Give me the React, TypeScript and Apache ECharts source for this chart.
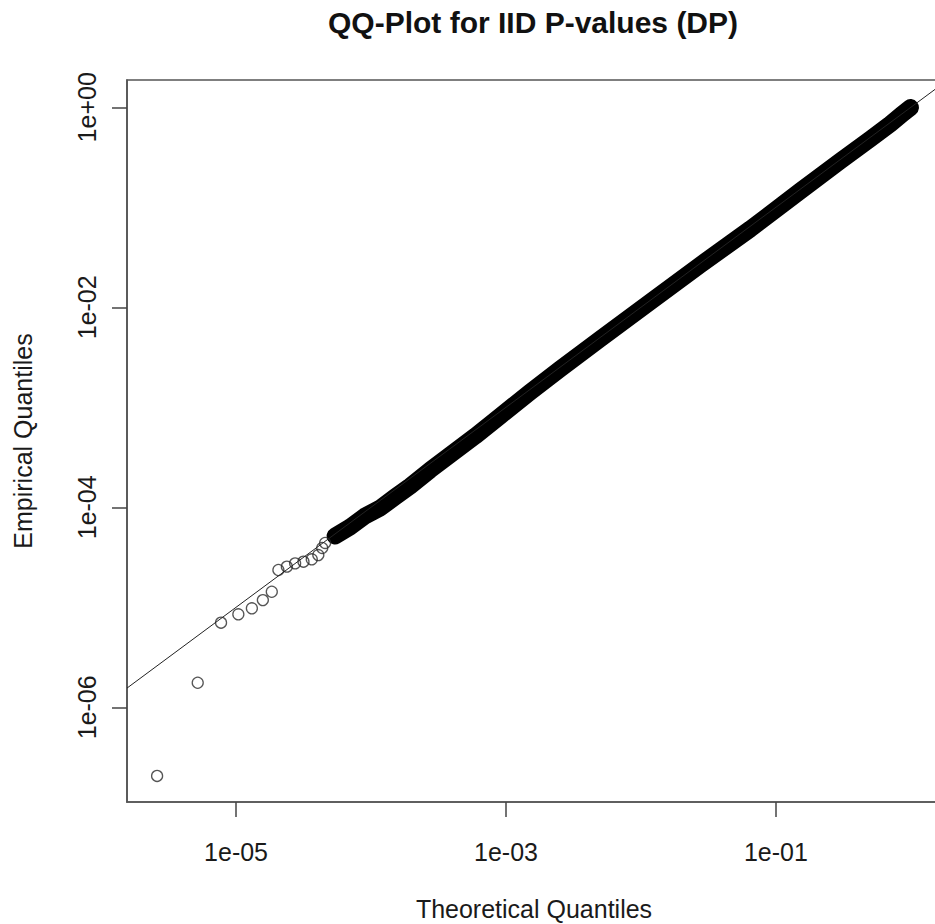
import React, { useEffect, useRef } from "react";
import * as echarts from "echarts";

const TITLE = "QQ-Plot for IID P-values (DP)";
const X_NAME = "Theoretical Quantiles";
const Y_NAME = "Empirical Quantiles";
const FONT = "'Liberation Sans', Arial, Helvetica, sans-serif";

// Axis extents in log10 units
const xLogRange = [-5.808, 0.2234];
const yLogRange = [-6.947, 0.273];

// Tick values and labels
const xTickValues = [1e-5, 1e-3, 1e-1];
const xTickLabels = ["1e-05", "1e-03", "1e-01"];
const yTickValues = [1e-6, 1e-4, 1e-2, 1];
const yTickLabels = ["1e-06", "1e-04", "1e-02", "1e+00"];

// Sparse (individually visible) points, lowest quantiles
const theoreticalSparse = [
  2.6e-6, 5.2e-6, 7.74e-6, 1.04e-5, 1.31e-5, 1.58e-5, 1.84e-5, 2.06e-5,
  2.38e-5, 2.74e-5, 3.16e-5, 3.64e-5, 4.07e-5, 4.35e-5, 4.57e-5,
];
const empiricalSparse = [
  2.06e-7, 1.76e-6, 7.02e-6, 8.51e-6, 9.77e-6, 1.18e-5, 1.43e-5, 2.36e-5,
  2.55e-5, 2.75e-5, 2.86e-5, 3.02e-5, 3.33e-5, 3.92e-5, 4.4e-5,
];

// Dense band of overlapping points (read along its centre)
const theoreticalDense = [
  5.42e-5, 7.0e-5, 9.03e-5, 1.17e-4, 1.51e-4, 1.95e-4, 2.74e-4, 3.85e-4,
  5.92e-4, 9.06e-4, 1.51e-3, 2.52e-3, 4.99e-3, 1.17e-2, 2.75e-2, 6.46e-2,
  0.152, 0.3, 0.501, 0.705, 0.865, 0.993,
];
const empiricalDense = [
  5.16e-5, 6.35e-5, 8.18e-5, 9.84e-5, 1.27e-4, 1.63e-4, 2.36e-4, 3.33e-4,
  5.16e-4, 8.18e-4, 1.42e-3, 2.42e-3, 4.82e-3, 1.13e-2, 2.65e-2, 6.07e-2,
  0.146, 0.29, 0.482, 0.681, 0.857, 0.995,
];

const L = (v: number) => Math.log10(v);

function labelFor(values: number[], labels: string[]) {
  return (v: number) => {
    for (let i = 0; i < values.length; i++) {
      if (Math.abs(L(values[i]) - v) < 1e-6) return labels[i];
    }
    return "";
  };
}

export default function App() {
  const ref = useRef<HTMLDivElement>(null);

  useEffect(() => {
    if (!ref.current) return;
    const chart = echarts.init(ref.current, undefined, { renderer: "svg" });

    const sparse = theoreticalSparse.map((t, i) => [L(t), L(empiricalSparse[i])]);
    const dense = theoreticalDense.map((t, i) => [L(t), L(empiricalDense[i])]);
    const abline = [
      [xLogRange[0], xLogRange[0]],
      [xLogRange[1], xLogRange[1]],
    ];

    const axisText = { fontFamily: FONT, fontSize: 25, color: "#1a1a1a" };

    const option: any = {
      animation: false,
      backgroundColor: "#ffffff",
      title: {
        text: TITLE,
        left: 328,
        top: 7,
        padding: 0,
        textStyle: { fontFamily: FONT, fontSize: 30, fontWeight: "bold", color: "#111" },
      },
      grid: {
        left: 127,
        top: 80,
        right: -6,
        bottom: 122,
        show: true,
        borderColor: "#555",
        borderWidth: 1.6,
        backgroundColor: "transparent",
        containLabel: false,
        outerBoundsMode: "none",
      },
      xAxis: {
        type: "value",
        position: "bottom",
        min: xLogRange[0],
        max: xLogRange[1],
        name: X_NAME,
        nameLocation: "middle",
        nameGap: 94,
        nameTextStyle: axisText,
        axisLine: { show: true, onZero: false, lineStyle: { color: "#555", width: 1.6 } },
        splitLine: { show: false },
        axisTick: {
          show: true,
          customValues: xTickValues.map(L),
          length: 15,
          lineStyle: { color: "#444", width: 1.5 },
        },
        axisLabel: {
          customValues: xTickValues.map(L),
          formatter: labelFor(xTickValues, xTickLabels),
          margin: 37,
          ...axisText,
        },
      },
      yAxis: {
        type: "value",
        position: "left",
        min: yLogRange[0],
        max: yLogRange[1],
        name: Y_NAME,
        nameLocation: "middle",
        nameGap: 92,
        nameTextStyle: axisText,
        axisLine: { show: true, onZero: false, lineStyle: { color: "#555", width: 1.6 } },
        splitLine: { show: false },
        axisTick: {
          show: true,
          customValues: yTickValues.map(L),
          length: 15,
          lineStyle: { color: "#444", width: 1.5 },
        },
        axisLabel: {
          customValues: yTickValues.map(L),
          formatter: labelFor(yTickValues, yTickLabels),
          rotate: 90,
          margin: 28,
          ...axisText,
        },
      },
      series: [
        {
          type: "line",
          data: dense,
          symbol: "none",
          silent: true,
          lineStyle: { width: 17, color: "#000", cap: "round", join: "round" },
          z: 2,
        },
        {
          type: "scatter",
          data: sparse,
          symbol: "circle",
          symbolSize: 11,
          silent: true,
          itemStyle: { color: "rgba(255,255,255,0)", borderColor: "#2a2a2a", borderWidth: 1.3 },
          z: 3,
        },
        {
          type: "line",
          data: abline,
          symbol: "none",
          silent: true,
          lineStyle: { width: 1, color: "#222" },
          z: 5,
        },
      ],
    };

    chart.setOption(option);
    return () => chart.dispose();
  }, []);

  return (
    <div
      ref={ref}
      style={{ position: "fixed", left: 0, top: 0, width: 935, height: 924, background: "#fff" }}
    />
  );
}
